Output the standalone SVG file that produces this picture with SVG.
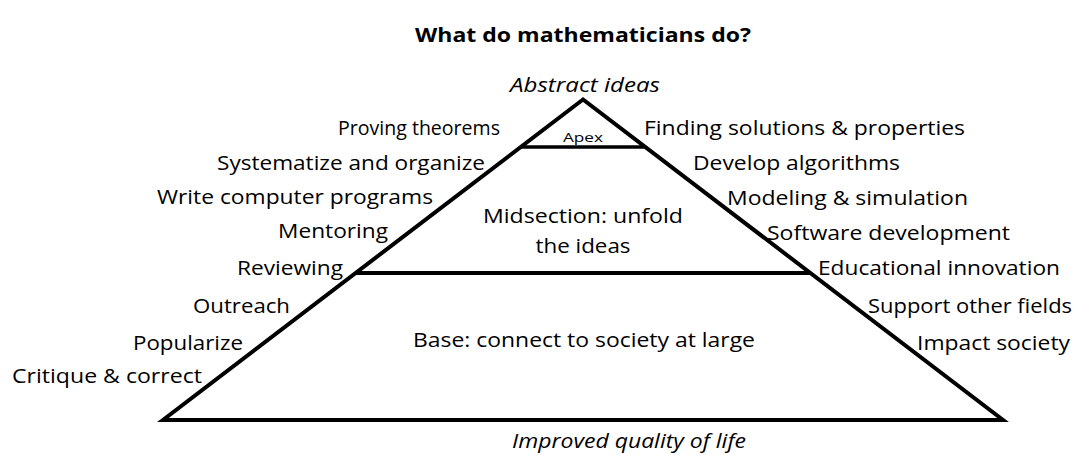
<svg xmlns="http://www.w3.org/2000/svg" width="1083" height="455" viewBox="0 0 1083 455">
<style>
text{font-family:"Open Sans","Liberation Sans",sans-serif;font-size:20px;fill:#000}
.s{text-anchor:start}.e{text-anchor:end}.m{text-anchor:middle}
.i{font-style:italic}
.t{font-weight:bold;font-size:19px}
.ln{stroke:#000;stroke-width:4;fill:none;stroke-linejoin:miter;stroke-miterlimit:10}
</style>
<rect width="1083" height="455" fill="#fff"/>
<g id="title"><text class="m t" x="583" y="42" textLength="336" lengthAdjust="spacingAndGlyphs">What do mathematicians do?</text></g>
<g id="pyramid">
<polygon class="ln" points="583,99.5 163,420 1003,420"/>
</g>
<g id="connectors">
<line class="ln" x1="520" y1="147" x2="646" y2="147" style="stroke-width:3.5"/>
<line class="ln" x1="355" y1="273" x2="811" y2="273"/>
</g>
<g id="apex"><text class="m" x="583" y="142" style="font-size:13px" textLength="40" lengthAdjust="spacingAndGlyphs">Apex</text></g>
<g id="midsection">
<text class="m" x="583" y="223" textLength="200" lengthAdjust="spacingAndGlyphs">Midsection: unfold</text>
<text class="m" x="583" y="253" textLength="95" lengthAdjust="spacingAndGlyphs">the ideas</text>
</g>
<g id="base"><text class="m" x="584" y="347" textLength="342" lengthAdjust="spacingAndGlyphs">Base: connect to society at large</text></g>
<g id="top-label"><text class="m i" x="585" y="92" textLength="150" lengthAdjust="spacingAndGlyphs">Abstract ideas</text></g>
<g id="bottom-label"><text class="m i" x="629" y="448" textLength="234" lengthAdjust="spacingAndGlyphs">Improved quality of life</text></g>
<g id="left-labels">
<text class="s" x="338" y="135" textLength="162" lengthAdjust="spacingAndGlyphs">Proving theorems</text>
<text class="s" x="217" y="170" textLength="268" lengthAdjust="spacingAndGlyphs">Systematize and organize</text>
<text class="s" x="157" y="204" textLength="276" lengthAdjust="spacingAndGlyphs">Write computer programs</text>
<text class="s" x="278" y="238" textLength="110" lengthAdjust="spacingAndGlyphs">Mentoring</text>
<text class="s" x="237" y="275" textLength="106" lengthAdjust="spacingAndGlyphs">Reviewing</text>
<text class="s" x="193" y="313" textLength="97" lengthAdjust="spacingAndGlyphs">Outreach</text>
<text class="s" x="133" y="350" textLength="110" lengthAdjust="spacingAndGlyphs">Popularize</text>
<text class="s" x="12" y="383" textLength="190" lengthAdjust="spacingAndGlyphs">Critique &amp; correct</text>
</g>
<g id="right-labels">
<text class="s" x="644" y="135" textLength="321" lengthAdjust="spacingAndGlyphs">Finding solutions &amp; properties</text>
<text class="s" x="693" y="170" textLength="207" lengthAdjust="spacingAndGlyphs">Develop algorithms</text>
<text class="s" x="727" y="205" textLength="241" lengthAdjust="spacingAndGlyphs">Modeling &amp; simulation</text>
<text class="s" x="767" y="240" textLength="243" lengthAdjust="spacingAndGlyphs">Software development</text>
<text class="s" x="818" y="275" textLength="242" lengthAdjust="spacingAndGlyphs">Educational innovation</text>
<text class="s" x="868" y="313" textLength="204" lengthAdjust="spacingAndGlyphs">Support other fields</text>
<text class="s" x="917" y="350" textLength="153" lengthAdjust="spacingAndGlyphs">Impact society</text>
</g>
</svg>
